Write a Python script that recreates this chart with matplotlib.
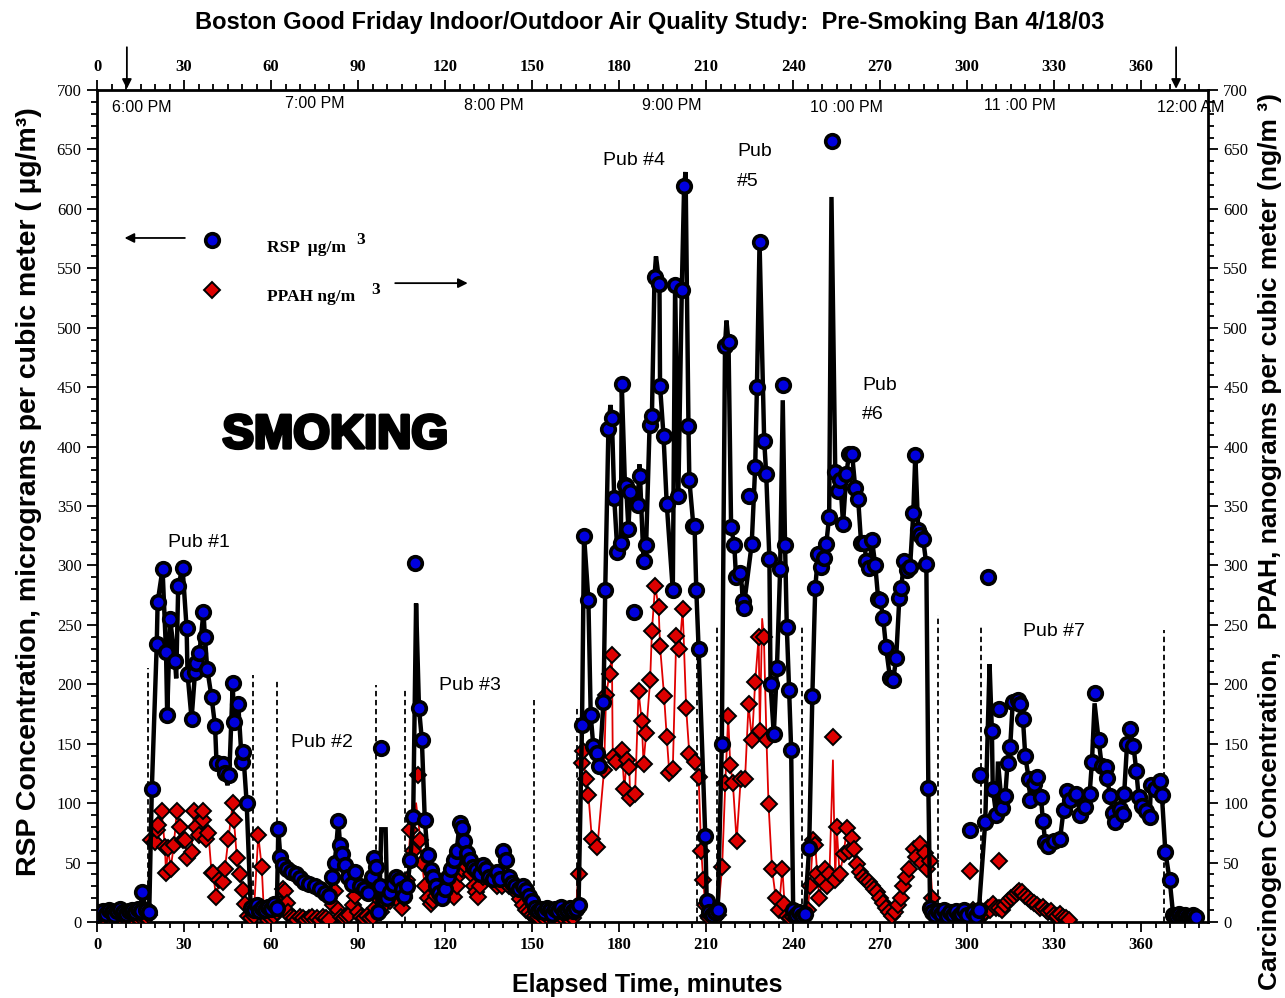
import matplotlib
matplotlib.use('Agg')
import matplotlib.pyplot as plt
from matplotlib.ticker import MultipleLocator
import matplotlib.patheffects as pe

# ---------------- data (elapsed minutes, concentration) ----------------
# RSP (ug/m3) sampled points (marker + line)
rsp_t = [0, 1, 2, 3, 4, 5, 6, 7, 8, 9, 10, 11, 12, 13, 14, 15, 15.5, 17, 18,
         18.9, 20.6, 20.9, 22.6, 23.8, 24.2, 25.2, 26.9, 28, 29.5, 30.9, 31.2, 32.6, 33.8, 34.1, 35.3, 36.7, 37.2, 38, 39.5, 40.7, 41.2, 43.5, 44.1, 45.6, 46.8, 47.2, 48.7, 49.9, 50.4, 51.6,
         53, 54, 55, 56, 57, 58, 59, 60, 61, 62,
         62.5, 63.2, 64, 65.5, 67, 68.5, 70, 71.5, 73, 75, 77, 78.5, 80, 81, 82, 83.2, 83.8, 84.5, 85.5, 86.5, 88, 89, 90.5, 92, 93.5, 94.8, 95.5, 96.2, 96.8, 97.5,
         100, 101, 102, 103, 104, 105, 106, 107, 108, 109, 111, 112, 113, 114, 115, 116, 117, 118, 119, 120, 121, 122, 123, 124,
         125, 125.8, 126.5, 127.5, 128.5, 129.5, 130.5, 132, 133, 134, 135, 136.5, 138, 139, 140, 141, 142, 143, 144, 145.5, 147, 148, 149, 150,
         151, 152, 153, 154, 155, 156, 157, 158, 159, 160, 161, 162, 163, 164, 165, 166,
         167.2, 167.9, 169.4, 170.2, 171.1, 172.5, 173.2, 174.6, 175.2, 176.3, 177.5, 178.3, 179.4, 180.6, 180.9, 182, 182.4, 183.2, 183.8, 186.4,
         187.2, 188.4, 189.3, 190.5, 191.3, 192.2, 193.9, 194.1, 195.3, 196.4, 198.5, 199.3, 200.4, 201.6, 202.4, 203.9, 204.2, 205.6, 206, 206.6,
         207.4, 209.7, 210.2, 211, 212, 213,
         214, 215.4, 216.5, 217.7, 218.6, 219.7, 220.3, 221.5, 222.6, 222.9, 225.7, 226.9, 227.5, 228.4, 230, 230.7, 231.8, 232.2, 233.3, 234.4,
         235.5, 237.2, 237.8, 238.6, 239.3, 240, 241, 242, 243, 244,
         245.5, 246.6, 247.6, 248.6, 249.7, 250.7, 251.4, 252.4, 254.5, 255.5, 256.2, 257.2, 258.3, 259.3, 260.3, 261.4, 262.4, 263.4, 264.5, 265.2,
         266.2, 267.2, 268.3, 269.3, 270, 271, 272, 273.4, 274.5, 275.5, 276.6, 277.2, 278.3, 279.3, 280.3, 281.4, 282.1, 283.1, 283.8, 284.8,
         285.9, 286.6, 287.2, 288, 289, 290,
         291, 292, 293, 294, 295, 296, 297, 298, 299, 300, 302, 303, 304,
         306.2, 308.5, 308.8, 310, 312, 313.1, 313.9, 314.8, 315.7, 317.4, 318.3, 319.2, 320, 321.2, 321.7, 322.9, 324.2, 325.4, 326.1, 326.9,
         328, 329.8, 332, 333.2, 334.4, 335.5, 337.6, 339, 340.7, 342.2, 343, 345.3, 346.4, 347.8, 348.2, 349.3, 350.2, 351, 352.5, 353.7,
         354.1, 355.1, 356.2, 357.3, 358.3, 359.1, 360.2, 361.7, 362.9, 363.3, 364.8, 366.3, 367.1, 368.3, 369.8, 371, 372, 373, 374, 375,
         376, 377, 378, 379]
rsp_v = [6, 8, 9, 7, 10, 8, 6, 9, 11, 8, 7, 9, 10, 8, 11, 9, 25, 10, 8,
         112, 234, 269, 297, 227, 174, 255, 220, 283, 298, 247, 209, 171, 210, 218, 226, 261, 240, 213, 189, 165, 134, 133, 125, 124, 201, 168, 183, 135, 143, 100,
         12, 10, 14, 9, 12, 10, 13, 11, 15, 12,
         78, 55, 48, 45, 42, 40, 37, 34, 32, 30, 28, 24, 22, 38, 50, 85, 65, 57, 48, 38, 32, 42, 30, 28, 24, 38, 54, 46, 8, 30,
         20, 25, 32, 38, 35, 28, 22, 30, 52, 88, 180, 153, 86, 56, 44, 38, 30, 24, 20, 28, 38, 45, 52, 60,
         83, 79, 68, 58, 52, 46, 44, 40, 48, 45, 38, 36, 42, 36, 60, 52, 38, 33, 30, 28, 30, 27, 22, 18,
         12, 9, 11, 8, 12, 10, 7, 11, 9, 13, 8, 10, 12, 9, 11, 14,
         166, 325, 271, 174, 148, 142, 131, 185, 279, 415, 424, 357, 311, 319, 453, 368, 367, 331, 362, 351,
         375, 304, 317, 418, 426, 543, 537, 451, 409, 352, 279, 536, 358, 532, 619, 417, 372, 333, 333, 279,
         230, 72, 18, 8, 6, 8,
         10, 150, 485, 488, 332, 317, 290, 294, 270, 264, 318, 383, 450, 572, 405, 377, 305, 200, 158, 214,
         297, 317, 248, 195, 145, 10, 6, 8, 5, 7,
         62, 190, 281, 310, 299, 306, 318, 341, 379, 363, 372, 335, 377, 394, 394, 365, 356, 319, 319, 304,
         298, 321, 300, 272, 271, 256, 231, 205, 204, 222, 273, 281, 304, 296, 299, 344, 393, 330, 326, 322,
         301, 113, 12, 8, 6, 9,
         7, 10, 5, 8, 6, 9, 5, 7, 10, 6, 8, 5, 10,
         84, 161, 112, 90, 96, 106, 134, 147, 185, 187, 183, 171, 140, 120, 103, 116, 122, 105, 85, 67,
         64, 68, 70, 94, 110, 103, 108, 90, 97, 108, 135, 153, 131, 130, 121, 106, 92, 84, 95, 91,
         108, 150, 162, 148, 127, 105, 98, 93, 88, 115, 112, 119, 107, 59, 35, 6, 5, 7, 5, 6,
         4, 5, 6, 4]
# RSP trace vertices without a marker (short peaks)
rsp_peak_t = [27.3, 45, 98, 99.5, 110, 177, 187, 192.7, 202.9, 217, 222.3, 236.4, 253.2, 307.7, 310.6, 343.9]
rsp_peak_v = [205, 115, 78, 78, 268, 435, 385, 560, 631, 506, 283, 439, 610, 217, 135, 184]
# RSP markers off the trace
rsp_out_t = [98, 109.7, 185.2, 224.6, 236.4, 253.4, 301, 304.5, 307.1, 311.1, 343.9]
rsp_out_v = [146, 302, 261, 358, 452, 657, 77, 124, 290, 179, 193]

# PPAH (ng/m3)
ppah_t = [0, 1, 2, 3, 4, 5, 6, 7, 8, 9, 10, 11, 12, 13, 14, 15, 16, 17, 18,
          18.6, 20, 20.6, 21.1, 22.3, 23.4, 23.8, 24.5, 25.4, 26.5, 27.5, 28.6, 29.5, 30.3, 31.1, 32.6, 33.4, 34.3, 35.3, 36.4,
          36.7, 37.5, 38.4, 39.5, 40.1, 41, 42.2, 43.3, 44.1, 45.3, 46.8, 47.2, 48.2, 49.3, 50.2, 51, 52, 53, 54,
          55.6, 56.8, 57.5, 58, 59, 60, 61, 62, 63, 64, 64.8, 65.4, 66, 67, 68, 69, 70, 71, 72, 73, 74, 75, 76, 77, 78,
          79, 80, 81.5, 82, 83, 84, 85, 86, 87, 88.4, 89, 90, 91, 92, 93, 94, 95, 96, 97, 98, 99, 100, 101, 102, 103,
          104, 105, 106, 107, 108, 109, 111.5, 112, 113, 114, 115, 116, 117, 118.3, 119, 120, 121, 121.7, 122.9, 124,
          125, 126, 127, 128, 129, 129.8, 130.5, 131.5, 132, 133, 134.9, 136, 137, 138, 139.5, 140, 141, 142, 143.6, 144.5,
          145.9, 147, 148, 149, 150, 151,
          152, 153, 154, 155, 156, 157, 158, 159, 160, 161, 162, 163, 164, 165, 166,
          167.2, 167.5, 168.5, 169.4, 170.6, 172.5, 174.8, 175.5, 176.7, 177.5, 177.8, 179, 180.9, 181.8, 182.6, 183.5, 183.8, 185.5, 186.7, 187.8,
          188.4, 189.3, 190.7, 191.3, 192.4, 193.6, 194.1, 195.5, 196.4, 197.3, 198.5, 199.7, 200.8, 201.9, 203.1, 204.2, 206.2, 207.4, 208.3, 209,
          209.7, 210.5, 211, 212, 213, 214,
          215.5, 216.6, 217.6, 218.3, 219.2, 220.5, 221.9, 223.4, 224.6, 225.8, 226.9, 228.1, 228.5, 229.9, 230.8, 231.5, 232.7, 234, 235, 236.3,
          237, 238, 239, 240, 241, 242, 243, 244,
          245, 245.8, 246.9, 247.6, 248.3, 249, 250, 250.9, 251.5, 252.5, 254.5, 255, 256, 257.4, 258.5, 259.3, 260.2, 260.8, 262, 263,
          264, 265, 266, 267, 268, 269, 270, 271, 272, 273, 274, 275, 276, 277, 278, 279, 280, 281.6, 282.5, 283.8,
          284.5, 285.5, 286.3, 287.2, 288, 289, 290,
          291, 292, 293, 294, 295, 296, 297, 298, 299, 300, 301, 302, 303, 304,
          305, 306, 307, 308, 309, 310, 311, 312, 313, 314, 315, 316, 317, 318, 319, 320, 321, 322, 323, 324,
          325, 326, 327, 328, 329, 330, 331, 332, 333, 334, 335]
ppah_v = [4, 5, 3, 6, 4, 5, 3, 6, 4, 5, 3, 6, 4, 5, 3, 4, 5, 4, 6,
          69, 67, 77, 82, 93, 63, 41, 62, 45, 65, 93, 80, 69, 69, 54, 59, 93, 80, 73, 86,
          93, 70, 75, 41, 41, 21, 35, 34, 45, 70, 100, 86, 54, 40, 27, 15, 5, 3, 5,
          73, 46, 10, 4, 6, 3, 5, 8, 15, 28, 26, 16, 8, 4, 3, 2, 4, 3, 2, 3, 4, 2, 3, 2, 4,
          3, 2, 14, 26, 10, 4, 3, 5, 6, 14, 22, 8, 4, 3, 5, 3, 4, 12, 20, 8, 14, 25, 18, 30, 22,
          18, 12, 20, 35, 77, 60, 69, 50, 30, 20, 15, 18, 22, 26, 30, 28, 32, 35, 21, 30,
          40, 45, 48, 51, 40, 30, 25, 21, 30, 38, 44, 40, 35, 30, 30, 36, 33, 30, 30, 25,
          19, 14, 10, 8, 6, 5,
          4, 6, 3, 5, 8, 4, 6, 3, 5, 7, 4, 6, 3, 8, 40,
          134, 144, 120, 107, 70, 63, 128, 191, 209, 225, 139, 135, 145, 112, 136, 130, 104, 108, 194, 169,
          133, 159, 204, 245, 283, 265, 232, 190, 156, 125, 129, 241, 230, 263, 180, 141, 135, 122, 60, 35,
          14, 5, 3, 4, 3, 6,
          46, 117, 173, 132, 117, 68, 120, 120, 183, 153, 202, 240, 161, 240, 153, 99, 45, 20, 10, 45,
          15, 5, 3, 4, 3, 5, 4, 6,
          10, 30, 69, 65, 40, 20, 35, 45, 30, 40, 35, 80, 40, 57, 79, 60, 71, 61, 49, 42,
          38, 35, 34, 30, 28, 25, 20, 16, 12, 8, 5, 8, 14, 20, 30, 38, 45, 61, 55, 66,
          50, 58, 45, 51, 20, 5, 3,
          4, 2, 5, 3, 4, 2, 3, 5, 2, 4, 4, 10, 4, 3,
          5, 8, 12, 10, 15, 12, 12, 10, 14, 18, 20, 22, 24, 26, 25, 22, 20, 18, 16, 14,
          12, 13, 10, 8, 9, 6, 5, 7, 4, 3, 2]
ppah_peak_t = [110, 229.3, 253.7]
ppah_peak_v = [100, 255, 136]
ppah_out_t = [110.8, 253.7, 301, 311.1]
ppah_out_v = [124, 156, 43, 51]

# pub visit boundaries (minute, height of dashed marker line)
bound_t = [17.6, 53.9, 62.1, 96.2, 106.2, 150.5, 165.4, 206.9, 213.8, 243, 289.9, 304.7, 367.9]
bound_h = [214, 208, 203, 199, 196, 187, 180, 296, 248, 250, 258, 248, 246]

clock_t = [15.5, 75.2, 136.9, 198.3, 258.3, 318, 377.2]
clock_v = [685, 689, 687, 687, 685, 687, 685]
clock_lbl = ['6:00 PM', '7:00 PM', '8:00 PM', '9:00 PM', '10 :00 PM', '11 :00 PM', '12:00 AM']

x_ticks = [0, 30, 60, 90, 120, 150, 180, 210, 240, 270, 300, 330, 360]

assert len(rsp_t) == len(rsp_v), (len(rsp_t), len(rsp_v))
assert len(ppah_t) == len(ppah_v), (len(ppah_t), len(ppah_v))


def merge(t1, v1, t2, v2):
    pts = sorted(zip(list(t1) + list(t2), list(v1) + list(v2)))
    return [p[0] for p in pts], [p[1] for p in pts]


# ---------------- figure ----------------
W, H = 1285, 998
fig = plt.figure(figsize=(W / 100, H / 100), dpi=100)
L, R, T, B = 97, 1208, 90, 922
ax = fig.add_axes([L / W, 1 - B / H, (R - L) / W, (B - T) / H])
ax.set_xlim(0, 383)
ax.set_ylim(0, 700)

BLUE = '#0000dd'
RED = '#dd0000'

# dashed boundaries
ax.vlines(bound_t, 0, bound_h, colors='black', linestyles=(0, (3, 2)), linewidth=1.3, zorder=2)

# PPAH
pl_t, pl_v = merge(ppah_t, ppah_v, ppah_peak_t, ppah_peak_v)
ax.plot(pl_t, pl_v, color='#e00000', lw=1.3, zorder=3)
ax.plot(ppah_t + ppah_out_t, ppah_v + ppah_out_v, linestyle='none', marker='D', ms=8.5,
        mfc=RED, mec='black', mew=1.4, zorder=4)

# RSP
rl_t, rl_v = merge(rsp_t, rsp_v, rsp_peak_t, rsp_peak_v)
ax.plot(rl_t, rl_v, color='black', lw=3.2, zorder=5, solid_joinstyle='miter')
ax.plot(rsp_t + rsp_out_t, rsp_v + rsp_out_v, linestyle='none', marker='o', ms=9.8,
        mfc=BLUE, mec='black', mew=2.6, zorder=6)

# axes styling
for s in ax.spines.values():
    s.set_linewidth(2.0)
ax.set_xticks(x_ticks)
ax.xaxis.set_minor_locator(MultipleLocator(5))
ax.yaxis.set_major_locator(MultipleLocator(50))
ax.yaxis.set_minor_locator(MultipleLocator(10))
ax.tick_params(axis='x', which='both', direction='out', top=True, bottom=True,
               labeltop=True, labelbottom=True, width=1.3)
ax.tick_params(axis='y', which='both', direction='out', left=True, right=True,
               labelleft=True, labelright=True, width=1.3)
ax.tick_params(which='major', length=7)
ax.tick_params(which='minor', length=4)
ax.tick_params(axis='x', pad=4)
ax.tick_params(axis='y', pad=4)
for t in ax.xaxis.get_major_ticks():
    for lab in (t.label1, t.label2):
        lab.set_fontfamily('Liberation Serif')
        lab.set_fontweight('bold')
        lab.set_fontsize(12)
for t in ax.yaxis.get_major_ticks():
    for lab in (t.label1, t.label2):
        lab.set_fontfamily('Liberation Serif')
        lab.set_fontsize(12)

sans = 'Liberation Sans'
serif = 'Liberation Serif'

# clock labels
for t, v, s in zip(clock_t, clock_v, clock_lbl):
    ax.text(t, v, s, ha='center', va='center', fontsize=11.5, family=sans, clip_on=False, zorder=7)

# top arrows
for xa in (10.3, 372):
    ax.annotate('', xy=(xa, 701), xytext=(xa, 736), xycoords='data',
                arrowprops=dict(arrowstyle='-|>', color='black', lw=1.3, mutation_scale=14,
                                shrinkA=0, shrinkB=0),
                annotation_clip=False)

# pub labels
ax.text(35.2, 319, 'Pub #1', ha='center', va='center', fontsize=14, family=sans, zorder=7)
ax.text(77.6, 151, 'Pub #2', ha='center', va='center', fontsize=14, family=sans, zorder=7)
ax.text(128.6, 199, 'Pub #3', ha='center', va='center', fontsize=14, family=sans, zorder=7)
ax.text(185.2, 641, 'Pub #4', ha='center', va='center', fontsize=14, family=sans, zorder=7)
ax.text(220.7, 648, 'Pub', ha='left', va='center', fontsize=14, family=sans, zorder=7)
ax.text(220.7, 623, '#5', ha='left', va='center', fontsize=14, family=sans, zorder=7)
ax.text(263.8, 451, 'Pub', ha='left', va='center', fontsize=14, family=sans, zorder=7)
ax.text(263.8, 427, '#6', ha='left', va='center', fontsize=14, family=sans, zorder=7)
ax.text(330, 244, 'Pub #7', ha='center', va='center', fontsize=14, family=sans, zorder=7)
ax.text(82.1, 409, 'SMOKING', ha='center', va='center', fontsize=34, fontweight='bold', family=sans,
        zorder=7, path_effects=[pe.withStroke(linewidth=2.6, foreground='black')])

# legend (hand drawn)
ax.plot([39.7], [573.6], linestyle='none', marker='o', ms=9.8, mfc=BLUE, mec='black', mew=2.6)
ax.plot([39.7], [531.5], linestyle='none', marker='D', ms=8.5, mfc=RED, mec='black', mew=1.4)
ax.text(58.6, 567, 'RSP  µg/m', ha='left', va='center', fontsize=12.5, fontweight='bold', family=serif)
ax.text(89.5, 574, '3', ha='left', va='center', fontsize=12.5, fontweight='bold', family=serif)
ax.text(58.6, 526, 'PPAH ng/m', ha='left', va='center', fontsize=12.5, fontweight='bold', family=serif)
ax.text(94.5, 532, '3', ha='left', va='center', fontsize=12.5, fontweight='bold', family=serif)
ax.annotate('', xy=(9.5, 575.5), xytext=(30.3, 575.5),
            arrowprops=dict(arrowstyle='-|>', color='black', lw=1.3, mutation_scale=14, shrinkA=0, shrinkB=0))
ax.annotate('', xy=(127.8, 537.5), xytext=(102.8, 537.5),
            arrowprops=dict(arrowstyle='-|>', color='black', lw=1.3, mutation_scale=14, shrinkA=0, shrinkB=0))

# titles / axis labels
fig.text(650 / W, 1 - 22 / H, 'Boston Good Friday Indoor/Outdoor Air Quality Study:  Pre-Smoking Ban 4/18/03',
         ha='center', va='center', fontsize=17, fontweight='bold', family=sans)
fig.text(647 / W, 1 - 985 / H, 'Elapsed Time, minutes', ha='center', va='center',
         fontsize=18, fontweight='bold', family=sans)
fig.text(29 / W, 1 - 492 / H, 'RSP Concentration, micrograms per cubic meter ( µg/m³)',
         ha='center', va='center', rotation=90, fontsize=20.5, fontweight='bold', family=sans)
fig.text(1270 / W, 1 - 542 / H, 'Carcinogen Concentration,   PPAH, nanograms per cubic meter (ng/m ³)',
         ha='center', va='center', rotation=90, fontsize=19, fontweight='bold', family=sans)

fig.savefig('out.png', dpi=100)
